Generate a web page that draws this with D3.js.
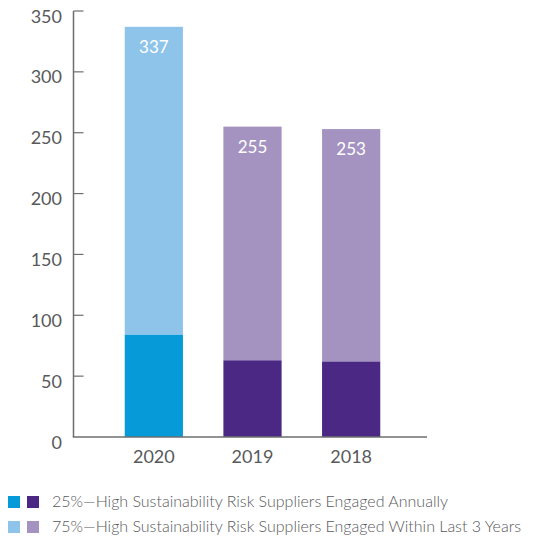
<!DOCTYPE html>
<html><head><meta charset="utf-8">
<script src="https://cdn.jsdelivr.net/npm/d3@7"></script>
<style>body{margin:0;background:#fff}svg{display:block}text{font-family:Lato,sans-serif}</style>
</head><body><svg id="c" width="554" height="542"></svg>
<script>
const years = ["2020","2019","2018"];
const annual = [84, 63, 62];
const total = [337, 255, 253];
const yTicks = [0,50,100,150,200,250,300,350];
const legendLabels = ["25%\u2014High Sustainability Risk Suppliers Engaged Annually","75%\u2014High Sustainability Risk Suppliers Engaged Within Last 3 Years"];
const darkColors = ["#069bd8","#4a2884","#4a2884"];
const lightColors = ["#8ec4ea","#a493c1","#a493c1"];

const svg = d3.select("#c");
const x0 = 73.5, x1 = 427, yTop = 11, yBot = 437;
const y = d3.scaleLinear().domain([0,350]).range([yBot, yTop]);
const x = d3.scaleBand().domain(years).range([105, 400]).paddingInner(0.41).paddingOuter(0.2);
const axisCol = "#6d6e71";

years.forEach((yr,i)=>{
  svg.append("rect").attr("x",x(yr)).attr("width",x.bandwidth())
    .attr("y",y(total[i])).attr("height",y(annual[i])-y(total[i])).attr("fill",lightColors[i]);
  svg.append("rect").attr("x",x(yr)).attr("width",x.bandwidth())
    .attr("y",y(annual[i])).attr("height",y(0)-y(annual[i])).attr("fill",darkColors[i]);
  svg.append("text").attr("x",x(yr)+x.bandwidth()/2).attr("y",y(total[i])+26)
    .attr("text-anchor","middle").attr("fill","#fff").attr("font-size",17).text(total[i]);
  svg.append("text").attr("x",x(yr)+x.bandwidth()/2).attr("y",yBot+26)
    .attr("text-anchor","middle").attr("fill","#58595b").attr("font-size",18).text(yr);
});

// y axis
svg.append("line").attr("x1",x0).attr("x2",x0).attr("y1",yTop).attr("y2",yBot).attr("stroke",axisCol).attr("stroke-width",1.5);
yTicks.forEach(t=>{
  if(t>0) svg.append("line").attr("x1",x0).attr("x2",x0+10).attr("y1",y(t)).attr("y2",y(t)).attr("stroke",axisCol).attr("stroke-width",1.2);
  svg.append("text").attr("x",62).attr("y",y(t)+11.5).attr("text-anchor","end").attr("fill","#58595b").attr("font-size",18).text(t);
});
svg.append("line").attr("x1",x0-0.75).attr("x2",x1).attr("y1",yBot).attr("y2",yBot).attr("stroke",axisCol).attr("stroke-width",1.5);

// legend
const legDark = ["#069bd8","#4a2884"], legLight = ["#8ec4ea","#a493c1"];
[[legDark,496],[legLight,521]].forEach(([cols,yy],k)=>{
  cols.forEach((c,j)=>svg.append("rect").attr("x",8+j*19).attr("y",yy).attr("width",12).attr("height",12).attr("fill",c));
  svg.append("text").attr("x",52).attr("y",yy+11).attr("fill","#58595b").attr("font-size",16).attr("font-weight",300).text(legendLabels[k]);
});
</script></body></html>
